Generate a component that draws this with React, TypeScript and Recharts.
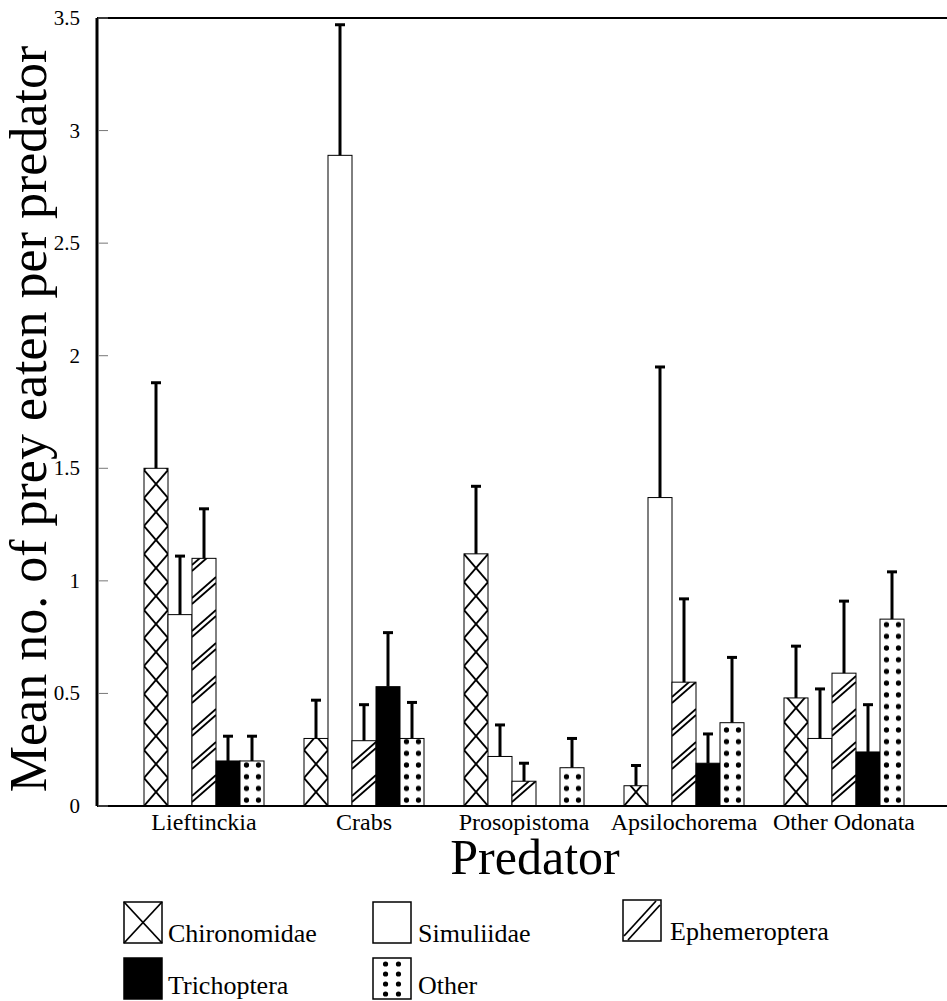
import React from "react";
import { BarChart, Bar, XAxis, YAxis, ReferenceLine, Label } from "recharts";

const CATEGORIES = ["Lieftinckia", "Crabs", "Prosopistoma", "Apsilochorema", "Other Odonata"];

// mean prey eaten, and the upper error (SE) above each bar
const CHIRONOMIDAE = [1.5, 0.3, 1.12, 0.09, 0.48];
const CHIRONOMIDAE_SE = [0.38, 0.17, 0.3, 0.09, 0.23];
const SIMULIIDAE = [0.85, 2.89, 0.22, 1.37, 0.3];
const SIMULIIDAE_SE = [0.26, 0.58, 0.14, 0.58, 0.22];
const EPHEMEROPTERA = [1.1, 0.29, 0.11, 0.55, 0.59];
const EPHEMEROPTERA_SE = [0.22, 0.16, 0.08, 0.37, 0.32];
const TRICHOPTERA = [0.2, 0.53, 0, 0.19, 0.24];
const TRICHOPTERA_SE = [0.11, 0.24, 0, 0.13, 0.21];
const OTHER = [0.2, 0.3, 0.17, 0.37, 0.83];
const OTHER_SE = [0.11, 0.16, 0.13, 0.29, 0.21];

const Y_TICKS = [0, 0.5, 1, 1.5, 2, 2.5, 3, 3.5];

const FONT = "Liberation Serif, DejaVu Serif, serif";

const data = CATEGORIES.map((name, i) => ({
    name,
    chir: CHIRONOMIDAE[i],
    chirSe: CHIRONOMIDAE_SE[i],
    sim: SIMULIIDAE[i],
    simSe: SIMULIIDAE_SE[i],
    eph: EPHEMEROPTERA[i],
    ephSe: EPHEMEROPTERA_SE[i],
    tri: TRICHOPTERA[i],
    triSe: TRICHOPTERA_SE[i],
    oth: OTHER[i],
    othSe: OTHER_SE[i],
}));

type Kind = "cross" | "plain" | "hatch" | "solid" | "dots";

function patternContent(kind: Kind, w: number) {
    if (kind === "cross") {
        return (
            <>
                <line x1={0} y1={0} x2={w} y2={28} stroke="#000" strokeWidth={1.8} />
                <line x1={w} y1={0} x2={0} y2={28} stroke="#000" strokeWidth={1.8} />
            </>
        );
    }
    if (kind === "hatch") {
        const rise = 21;
        return (
            <>
                <line x1={0} y1={23} x2={w} y2={23 - rise} stroke="#000" strokeWidth={1.7} />
                <line x1={0} y1={29} x2={w} y2={29 - rise} stroke="#000" strokeWidth={1.7} />
            </>
        );
    }
    return (
        <>
            <circle cx={w * 0.27} cy={5.85} r={2.6} fill="#000" />
            <circle cx={w * 0.77} cy={5.85} r={2.6} fill="#000" />
        </>
    );
}

const TILE_H: Record<string, number> = { cross: 28, hatch: 33, dots: 11.7 };

function makeShape(kind: Kind, valueKey: string, seKey: string) {
    return (props: any) => {
        const { x, y, width, height, payload, index } = props;
        const v = payload[valueKey];
        if (!v || !height || height <= 0) return <g />;
        const ppu = height / v; // pixels per unit from the bar's own scale
        const top = y - payload[seKey] * ppu;
        const cx = x + width / 2;
        const bottom = y + height;
        let fill = "#fff";
        let defs = null;
        if (kind === "solid") fill = "#000";
        if (kind === "cross" || kind === "hatch" || kind === "dots") {
            const id = `pat-${valueKey}-${index}`;
            defs = (
                <defs>
                    <pattern
                        id={id}
                        patternUnits="userSpaceOnUse"
                        x={x}
                        y={bottom}
                        width={width}
                        height={TILE_H[kind]}
                    >
                        <rect width={width} height={TILE_H[kind]} fill="#fff" />
                        {patternContent(kind, width)}
                    </pattern>
                </defs>
            );
            fill = `url(#${id})`;
        }
        return (
            <g>
                {defs}
                <rect x={x} y={y} width={width} height={height} fill={fill} stroke="#000" strokeWidth={1} />
                <line x1={cx} y1={y} x2={cx} y2={top} stroke="#000" strokeWidth={3} />
                <line x1={cx - 5} y1={top} x2={cx + 5} y2={top} stroke="#000" strokeWidth={3} />
            </g>
        );
    };
}

const YTick = ({ x, y, payload }: any) => (
    <g>
        <text x={x - 9} y={y} dy={7} textAnchor="end" fontSize={21} style={{ fontFamily: FONT }} fill="#000">
            {payload.value}
        </text>
        <line x1={x + 9} x2={x + 19} y1={y} y2={y} stroke="#777" strokeWidth={1} />
    </g>
);

const XTick = ({ x, y, payload }: any) => (
    <text x={x} y={y + 24} textAnchor="middle" fontSize={24} style={{ fontFamily: FONT }} fill="#000">
        {payload.value}
    </text>
);

function Swatch({ kind, x, y, w, h }: { kind: Kind; x: number; y: number; w: number; h: number }) {
    return (
        <g>
            <rect x={x} y={y} width={w} height={h} fill={kind === "solid" ? "#000" : "#fff"} stroke="#000" strokeWidth={1.5} />
            {kind === "cross" && (
                <>
                    <line x1={x} y1={y} x2={x + w} y2={y + h} stroke="#000" strokeWidth={1.8} />
                    <line x1={x + w} y1={y} x2={x} y2={y + h} stroke="#000" strokeWidth={1.8} />
                </>
            )}
            {kind === "hatch" && (
                <>
                    <line x1={x + 1} y1={y + h - 5} x2={x + w - 5} y2={y + 1} stroke="#000" strokeWidth={1.8} />
                    <line x1={x + 5} y1={y + h - 1} x2={x + w - 1} y2={y + 5} stroke="#000" strokeWidth={1.8} />
                </>
            )}
            {kind === "dots" &&
                [0, 1, 2, 3].map((r) => (
                    <g key={r}>
                        <circle cx={x + w * 0.33} cy={y + 6 + r * 10} r={2.6} fill="#000" />
                        <circle cx={x + w * 0.67} cy={y + 6 + r * 10} r={2.6} fill="#000" />
                    </g>
                ))}
        </g>
    );
}

const LEGEND: { label: string; kind: Kind; x: number; y: number; tx: number; ty: number }[] = [
    { label: "Chironomidae", kind: "cross", x: 124, y: 902, tx: 168, ty: 942 },
    { label: "Simuliidae", kind: "plain", x: 373, y: 902, tx: 418, ty: 942 },
    { label: "Ephemeroptera", kind: "hatch", x: 623, y: 900, tx: 670, ty: 940 },
    { label: "Trichoptera", kind: "solid", x: 124, y: 958, tx: 168, ty: 994 },
    { label: "Other", kind: "dots", x: 373, y: 958, tx: 418, ty: 994 },
];

export default function App() {
    return (
        <div style={{ position: "absolute", left: 0, top: 0, width: 947, height: 1001, background: "#fff" }}>
            <BarChart
                width={947}
                height={1001}
                data={data}
                margin={{ top: 18, right: 0, bottom: 165, left: 0 }}
                barCategoryGap={20}
                barGap={0}
            >
                <XAxis
                    dataKey="name"
                    height={30}
                    padding={{ left: 27, right: 23 }}
                    tickLine={false}
                    tickSize={0}
                    tickMargin={0}
                    axisLine={{ stroke: "#000", strokeWidth: 2 }}
                    tick={<XTick />}
                    interval={0}
                >
                    <Label
                        content={() => (
                            <text x={535} y={874} textAnchor="middle" fontSize={50} style={{ fontFamily: FONT }} fill="#000">
                                Predator
                            </text>
                        )}
                    />
                </XAxis>
                <YAxis
                    width={97}
                    domain={[0, 3.5]}
                    ticks={Y_TICKS}
                    tickLine={false}
                    axisLine={{ stroke: "#000", strokeWidth: 3 }}
                    tick={<YTick />}
                    interval={0}
                >
                    <Label
                        content={() => (
                            <text
                                x={46}
                                y={419}
                                transform="rotate(-90, 46, 419)"
                                textAnchor="middle"
                                fontSize={52}
                                style={{ fontFamily: FONT }}
                                fill="#000"
                            >
                                Mean no. of prey eaten per predator
                            </text>
                        )}
                    />
                </YAxis>
                <ReferenceLine y={3.5} stroke="#000" strokeWidth={2} />
                <Bar dataKey="chir" isAnimationActive={false} shape={makeShape("cross", "chir", "chirSe")} />
                <Bar dataKey="sim" isAnimationActive={false} shape={makeShape("plain", "sim", "simSe")} />
                <Bar dataKey="eph" isAnimationActive={false} shape={makeShape("hatch", "eph", "ephSe")} />
                <Bar dataKey="tri" isAnimationActive={false} shape={makeShape("solid", "tri", "triSe")} />
                <Bar dataKey="oth" isAnimationActive={false} shape={makeShape("dots", "oth", "othSe")} />
            </BarChart>
            <svg width={947} height={1001} style={{ position: "absolute", left: 0, top: 0, pointerEvents: "none" }}>
                {LEGEND.map((d) => (
                    <g key={d.label}>
                        <Swatch kind={d.kind} x={d.x} y={d.y} w={38} h={41} />
                        <text x={d.tx} y={d.ty} fontSize={26} style={{ fontFamily: FONT }} fill="#000">
                            {d.label}
                        </text>
                    </g>
                ))}
            </svg>
        </div>
    );
}
